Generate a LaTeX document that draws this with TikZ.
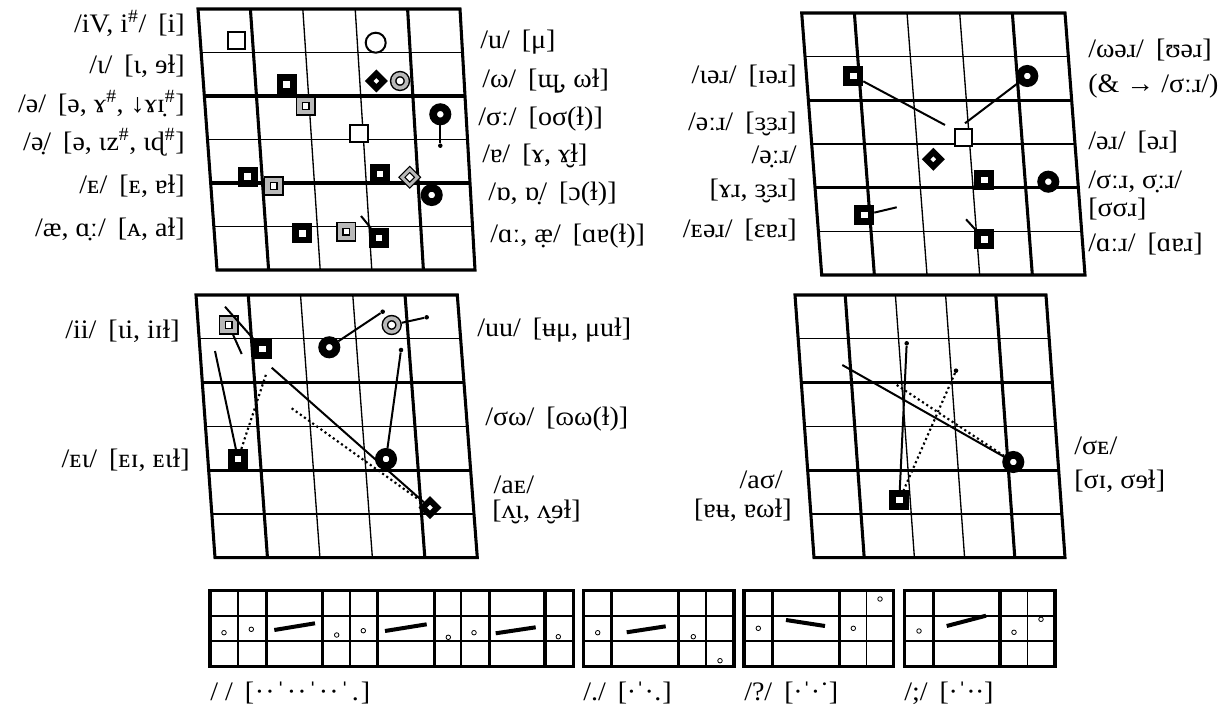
\documentclass[tikz,border=0pt]{standalone}
\usepackage{fontspec}
\setmainfont{Liberation Serif}[FakeStretch=1.05]
\usetikzlibrary{calc}
\newcommand\gp{\hspace{0.45em}}
\newcommand\mk[2][0.40em]{\makebox[#1]{#2}}
\newcommand\sh{\textsuperscript{\#}}
\newcommand\vchart[5]{%
  \coordinate (#1A) at #2; \coordinate (#1B) at #3;
  \coordinate (#1C) at #4; \coordinate (#1D) at #5;
  \foreach \k in {1,3,5} \draw[thinline] ($(#1A)!\k/6!(#1C)$) -- ($(#1B)!\k/6!(#1D)$);
  \foreach \k in {2,4} \draw[thickline] ($(#1A)!\k/6!(#1C)$) -- ($(#1B)!\k/6!(#1D)$);
  \foreach \k in {2,3} \draw[thinline] ($(#1A)!\k/5!(#1B)$) -- ($(#1C)!\k/5!(#1D)$);
  \foreach \k in {1,4} \draw[thickline] ($(#1A)!\k/5!(#1B)$) -- ($(#1C)!\k/5!(#1D)$);
  \draw[thickline] (#1A) -- (#1B) -- (#1D) -- (#1C) -- cycle;
}
\tikzset{
  thickline/.style={line width=2.3pt},
  thinline/.style={line width=1pt},
  lab/.style={inner sep=0pt, font=\fontsize{20}{24}\selectfont},
  osq/.style={draw, fill=white, line width=1.5pt, minimum size=13pt, inner sep=0pt},
  bsq/.style={draw, fill=white, line width=4.9pt, minimum size=10.1pt, inner sep=0pt},
  gsq/.style={draw, fill=white, line width=1.1pt, double=gray!55, double distance=3.2pt, minimum size=9.4pt, inner sep=0pt, outer sep=2.7pt},
  ocirc/.style={circle, draw, fill=white, line width=1.5pt, minimum size=15pt, inner sep=0pt},
  ring/.style={circle, draw, fill=white, line width=5.75pt, minimum size=10.75pt, inner sep=0pt},
  gcirc/.style={circle, draw, fill=white, line width=1.1pt, double=gray!55, double distance=2.8pt, minimum size=10.2pt, inner sep=0pt, outer sep=2.5pt},
  bdia/.style={draw, fill=white, rotate=45, line width=4.5pt, minimum size=7.7pt, inner sep=0pt},
  gdia/.style={draw, fill=white, rotate=45, line width=0.9pt, double=gray!55, double distance=2.2pt, minimum size=8.3pt, inner sep=0pt, outer sep=2pt},
  tdot/.style={circle, fill, minimum size=3.4pt, inner sep=0pt},
  conn/.style={line width=1.5pt},
  dconn/.style={line width=1.6pt, dash pattern=on 1.6pt off 2.2pt},
  pc/.style={circle, draw, line width=0.6pt, minimum size=3.4pt, inner sep=0pt},
  bar/.style={line width=3pt},
}
\begin{document}
\begin{tikzpicture}[x=0.75pt, y=-0.75pt]
\useasboundingbox (0,0) rectangle (1228,709);
% ---------- grids ----------
\vchart{tl}{(198,9)}{(460,9)}{(217,270)}{(475,270)}
\vchart{tr}{(801.7,13)}{(1065,13)}{(821.7,275)}{(1085,275)}
\vchart{ml}{(196,295)}{(457.3,295)}{(215,557.7)}{(477.3,557.7)}
\vchart{mr}{(795,295)}{(1046,295)}{(814,557.7)}{(1065,557.7)}
% ---------- top left markers ----------
\node[osq] (tl1) at (236.7,40.7) {};
\node[ocirc] (tl2) at (375.7,42.7) {};
\node[bsq] (tl3) at (286.7,84.3) {};
\node[bdia] (tl4) at (376.3,81) {};
\node[gcirc] (tl5) at (400,81) {};
\node[gsq] (tl6) at (305.7,106) {};
\node[ring] (tl7) at (440.3,114.3) {};
\node[tdot] (tl7d) at (440.3,145.7) {};
\node[osq] (tl8) at (359,133.7) {};
\node[bsq] (tl9) at (247.7,176.7) {};
\node[gsq] (tl10) at (273.7,186) {};
\node[bsq] (tl11) at (380,174) {};
\node[gdia] (tl12) at (409.7,177.3) {};
\node[ring] (tl13) at (431.7,195) {};
\node[bsq] (tl14) at (302.3,233.3) {};
\node[gsq] (tl15) at (346.3,231.7) {};
\node[bsq] (tl16) at (379,238) {};
\coordinate (tl16e) at (361,216);
\draw[conn] (tl7) -- (tl7d);
\draw[conn] (tl16e) -- (tl16);
% ---------- top right markers ----------
\node[bsq] (tr1) at (853.3,76) {};
\coordinate (tr1e) at (945,125);
\node[bdia] (tr2) at (933.3,159.3) {};
\node[bsq] (tr3) at (864.3,215) {};
\coordinate (tr3e) at (896.7,207.3);
\node[osq] (tr4) at (963.3,137.3) {};
\node[ring] (tr5) at (1027.3,76) {};
\coordinate (tr5e) at (965,123.3);
\node[bsq] (tr6) at (984.3,180) {};
\node[ring] (tr7) at (1048.3,181.7) {};
\node[bsq] (tr8) at (984.3,239.3) {};
\coordinate (tr8e) at (966,219.3);
\draw[conn] (tr1) -- (tr1e);
\draw[conn] (tr3) -- (tr3e);
\draw[conn] (tr5) -- (tr5e);
\draw[conn] (tr8e) -- (tr8);
% ---------- middle left markers ----------
\node[gsq] (ml1) at (228.7,325) {};
\node[bsq] (ml2) at (262.3,349) {};
\coordinate (ml2e) at (225,306.7);
\coordinate (ml1e) at (241.7,354);
\node[ring] (ml3) at (329.3,347.3) {};
\node[tdot] (ml3d) at (382.7,311.7) {};
\node[gcirc] (ml4) at (391.7,325) {};
\node[tdot] (ml4d) at (426.7,317.3) {};
\node[tdot] (ml5d) at (401,350) {};
\node[ring] (ml5) at (386,459) {};
\node[bsq] (ml6) at (238,459) {};
\coordinate (ml6a) at (215,351);
\coordinate (ml6b) at (266.7,372.3);
\node[bdia] (ml7) at (430,507.7) {};
\coordinate (ml7a) at (271.7,367.7);
\coordinate (ml7b) at (291.7,408.3);
\draw[conn] (ml2e) -- (ml2);
\draw[conn] (ml1) -- (ml1e);
\draw[conn] (ml3) -- (ml3d);
\draw[conn] (ml4) -- (ml4d);
\draw[conn] (ml5d) -- (ml5);
\draw[conn] (ml6a) -- (ml6);
\draw[dconn] (ml6) -- (ml6b);
\draw[conn] (ml7a) -- (ml7);
\draw[dconn] (ml7b) -- (ml7);
% ---------- middle right markers ----------
\node[tdot] (mr1d) at (906.7,343.3) {};
\node[tdot] (mr2d) at (956,370.7) {};
\node[bsq] (mr3) at (899.3,500) {};
\node[ring] (mr4) at (1013.3,462) {};
\coordinate (mr4a) at (842.3,365);
\coordinate (mr4b) at (896.7,385);
\draw[conn] (mr1d) -- (mr3);
\draw[dconn] (mr2d) -- (mr3);
\draw[conn] (mr4a) -- (mr4);
\draw[dconn] (mr4b) -- (mr4);
% ---------- labels top left ----------
\node[lab, anchor=east] (l1) at (185,23) {/iV, i\sh/\gp[i]};
\node[lab, anchor=east] (l2) at (185,66) {/ι/\gp[ι, ɘɫ]};
\node[lab, anchor=east] (l3) at (185,104) {/ə/\gp[ə, ɤ\sh, ↓ɤɪ̣\sh]};
\node[lab, anchor=east] (l4) at (185,142) {/ə̣/\gp[ə, ιz\sh, ιɖ\sh]};
\node[lab, anchor=east] (l5) at (185,186) {/ᴇ/\gp[ᴇ, ɐɫ]};
\node[lab, anchor=east] (l6) at (185,229) {/æ, ɑ̣ː/\gp[ᴀ, aɫ]};
\node[lab, anchor=west] (r1) at (480,42) {/u/\gp[μ]};
\node[lab, anchor=west] (r2) at (482,81) {/ω/\gp[ɰ̮, ωɫ]};
\node[lab, anchor=west] (r3) at (478,119) {/σː/\gp[oσ(ɫ)]};
\node[lab, anchor=west] (r4) at (482,156) {/ɐ/\gp[ɤ, ɤ̮ɫ]};
\node[lab, anchor=west] (r5) at (488,194) {/ɒ, ɒ̣/\gp[ɔ(ɫ)]};
\node[lab, anchor=west] (r6) at (490,236) {/ɑː, æ̣/\gp[ɑɐ(ɫ)]};
% ---------- labels top right ----------
\node[lab, anchor=east] (tl_a) at (797,76) {/ιəɹ/\gp[ɪəɹ]};
\node[lab, anchor=east] (tl_b) at (797,124) {/əːɹ/\gp[ɜ̮ɜɹ]};
\node[lab, anchor=east, align=right, font=\fontsize{20}{25.5}\selectfont] (tl_c) at (797,174) {/ə̣ːɹ/\\{}[ɤɹ, ɜ̮ɜɹ]};
\node[lab, anchor=east] (tl_e) at (797,230) {/ᴇəɹ/\gp[ɛɐɹ]};
\node[lab, anchor=west, align=left, font=\fontsize{20}{26.25}\selectfont] (tr_a) at (1088,68.5) {/ωəɹ/\gp[ʊəɹ]\\(\& → /σːɹ/)};
\node[lab, anchor=west] (tr_c) at (1088,142) {/əɹ/\gp[əɹ]};
\node[lab, anchor=west, align=left, font=\fontsize{20}{21}\selectfont] (tr_d) at (1088,195) {/σːɹ, σ̣ːɹ/\\{}[σσɹ]};
\node[lab, anchor=west] (tr_f) at (1088,244) {/ɑːɹ/\gp[ɑɐɹ]};
% ---------- labels middle ----------
\node[lab, anchor=east] (m1) at (180,331) {/ii/\gp[ιi, iɪɫ]};
\node[lab, anchor=east] (m2) at (190,460) {/ᴇι/\gp[ᴇɪ, ᴇιɫ]};
\node[lab, anchor=west] (m3) at (477,330) {/uu/\gp[ʉμ, μuɫ]};
\node[lab, anchor=west] (m4) at (485,419) {/σω/\gp[ɷω(ɫ)]};
\node[lab, anchor=west, align=left, font=\fontsize{20}{18.75}\selectfont] (m5) at (492,499.5) {\kern1pt/aᴇ/\\{}[ʌ̮ι, ʌ̮ɘɫ]};
\node[lab, anchor=east, align=right, font=\fontsize{20}{21.75}\selectfont] (m7) at (792,496.5) {/aσ/\kern6.75pt\\{}[ɐʉ, ɐωɫ]};
\node[lab, anchor=west, align=left, font=\fontsize{20}{25.5}\selectfont] (m9) at (1074,465) {/σᴇ/\\{}[σɪ, σɘɫ]};
% ---------- bottom strips ----------
\foreach \a/\b in {210/573.3, 583.3/734, 744/893.3, 904.3/1055} {
  \draw[thinline] (\a,616) -- (\b,616);
  \draw[thinline] (\a,641) -- (\b,641);
}
\foreach \v in {350, 461, 706, 866.7, 1027.7} \draw[thinline] (\v,590.7) -- (\v,666.7);
\draw[line width=1.6pt] (238.3,590.7) -- (238.3,666.7);
\foreach \v in {266.7, 322.7, 377.7, 434.3, 489.3, 545, 611.7, 678.3, 772.3, 839.3, 933.3, 1000}
  \draw[thickline] (\v,590.7) -- (\v,666.7);
\foreach \a/\b in {210/573.3, 583.3/734, 744/893.3, 904.3/1055}
  \draw[thickline] (\a,590.7) rectangle (\b,666.7);
\foreach \p/\q [count=\i] in {224/632.7, 251.3/629.3, 336.7/635, 363.3/630.7, 448.3/637.3, 474/632.7, 558.3/636.7,
   597.7/632.7, 693.3/636.7, 720/660.7, 758.3/628.3, 853.3/628.3, 880/599, 919/631, 1014/632.3, 1041/619.3}
  \node[pc] (pc\i) at (\p,\q) {};
\draw[bar] (274.3,630) -- (315,623.3);
\draw[bar] (385,631) -- (426.7,624.3);
\draw[bar] (495.7,633.3) -- (535.7,627.3);
\draw[bar] (626.7,632.3) -- (665.7,626.3);
\draw[bar] (786,620) -- (825,626);
\draw[bar] (946.7,626) -- (986,615.7);
\node[lab, anchor=west] (b1) at (210,693) {/ /\gp[\mk{·}\mk{·}\mk{ˈ}\mk{·}\mk{·}\mk{ˈ}\mk{·}\mk{·}\mk{ˈ}\mk{.}]};
\node[lab, anchor=west] (b2) at (583,693) {/./\gp[\mk[0.33em]{·}\mk[0.33em]{ˈ}\mk[0.33em]{·}\mk[0.33em]{.}]};
\node[lab, anchor=west] (b3) at (744,693) {/?/\gp[\mk[0.33em]{·}\mk[0.33em]{ˈ}\mk[0.33em]{·}\mk[0.33em]{˙}]};
\node[lab, anchor=west] (b4) at (904,693) {/;/\gp[\mk[0.33em]{·}\mk[0.33em]{ˈ}\mk[0.33em]{·}\mk[0.33em]{·}]};
\end{tikzpicture}
\end{document}
